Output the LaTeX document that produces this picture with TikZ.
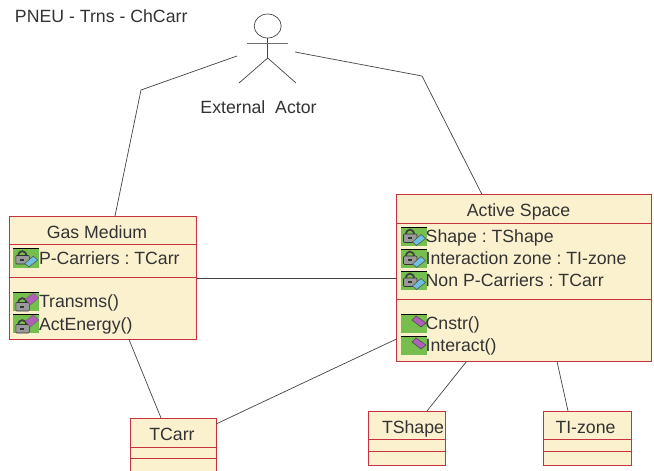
\documentclass[tikz,border=0pt]{standalone}
\usepackage{fontspec}
\usetikzlibrary{shapes.geometric}
\setmainfont{Liberation Sans}
\frenchspacing
\definecolor{boxfill}{HTML}{FBF1CF}
\definecolor{boxline}{HTML}{C8323F}
\definecolor{inkc}{HTML}{333333}
\definecolor{icongreen}{HTML}{76BE4E}
\definecolor{wirec}{HTML}{444444}
\definecolor{lockc}{HTML}{9A9A9A}
\definecolor{bluec}{HTML}{6CC0E0}
\definecolor{purplec}{HTML}{B060B8}
\tikzset{
  x=1pt,y=-1pt,
  classbox/.style={draw=boxline,fill=boxfill,line width=1pt,rectangle,inner sep=0pt,outer sep=0pt,anchor=north west},
  divider/.style={draw=boxline,line width=0.9pt},
  wire/.style={draw=wirec,line width=0.7pt},
  txt/.style={font=\fontsize{17.7}{20}\selectfont,text=inkc,inner sep=0pt,outer sep=0pt},
  classname/.style={txt,anchor=base},
  member/.style={txt,anchor=base west},
  iconbg/.pic={
    \fill[icongreen] (0,0) rectangle (25.5,19);
    \draw[black,line width=0.9pt] (0,0) -- (25.5,0);
  },
  lockg/.pic={
    \draw[black!75,line width=1.8pt] (5,7) .. controls (5,0.5) and (13,0.5) .. (13,7);
    \fill[lockc,draw=black!80,line width=0.6pt,rounded corners=1pt] (2.5,6.5) rectangle (16,15);
    \fill[black!80] (7,9.5) rectangle (11,11.5);
  },
  attricon/.pic={
    \pic at (0,0) {iconbg};
    \pic at (0,0.5) {lockg};
    \fill[bluec,draw=black!70,line width=0.5pt] (11.5,15) -- (20,7.5) -- (24.5,11.5) -- (15.5,18.5) -- cycle;
  },
  lockop/.pic={
    \pic at (0,0) {iconbg};
    \pic at (0,4) {lockg};
    \fill[purplec,draw=black!60,line width=0.4pt] (12,7) -- (20,1) -- (25.5,6) -- (17,13) -- cycle;
  },
  plainop/.pic={
    \pic at (0,0) {iconbg};
    \fill[purplec,draw=black!70,line width=0.6pt] (11,6) -- (15,2) -- (25,9) -- (20,13) -- cycle;
  },
}
\begin{document}
\begin{tikzpicture}
\useasboundingbox (0,0) rectangle (654,471);
\clip (0,0) rectangle (654,471);
\fill[white] (0,0) rectangle (654,471);

\node[txt,anchor=base west] (title) at (15,23) {PNEU - Trns - ChCarr};

% actor
\node[draw=wirec,line width=0.7pt,ellipse,minimum width=27pt,minimum height=24pt,inner sep=0pt,outer sep=0pt] (head) at (267.7,26) {};
\coordinate (hip) at (267.7,58);
\coordinate (armL) at (247,43);
\coordinate (armR) at (288,43);
\coordinate (legL) at (239,83);
\coordinate (legR) at (296,83);
\draw[wire] (head.south) -- (hip);
\draw[draw=black!55,line width=1pt] (armL) -- (armR);
\draw[wire] (legL) -- (hip) -- (legR);
\node[classname] (actorlabel) at (258.5,113) {External\ \ Actor};
\coordinate (actorL) at (237,56);
\coordinate (actorR) at (295,52);

% classes
\node[classbox,minimum width=187pt,minimum height=123.5pt] (gas) at (9.5,216) {};
\node[classbox,minimum width=255pt,minimum height=167pt] (active) at (396.5,194.5) {};
\node[classbox,minimum width=86pt,minimum height=62pt] (tcarr) at (130,418) {};
\node[classbox,minimum width=77pt,minimum height=54pt] (tshape) at (368,411) {};
\node[classbox,minimum width=88pt,minimum height=54pt] (tizone) at (543,411) {};

% dividers
\draw[divider] (gas.west |- 0,244.5) -- (gas.east |- 0,244.5);
\draw[divider] (gas.west |- 0,277) -- (gas.east |- 0,277);
\draw[divider] (active.west |- 0,223) -- (active.east |- 0,223);
\draw[divider] (active.west |- 0,299) -- (active.east |- 0,299);
\draw[divider] (tcarr.west |- 0,447) -- (tcarr.east |- 0,447);
\draw[divider] (tcarr.west |- 0,458) -- (tcarr.east |- 0,458);
\draw[divider] (tshape.west |- 0,439.5) -- (tshape.east |- 0,439.5);
\draw[divider] (tshape.west |- 0,451) -- (tshape.east |- 0,451);
\draw[divider] (tizone.west |- 0,439.5) -- (tizone.east |- 0,439.5);
\draw[divider] (tizone.west |- 0,451) -- (tizone.east |- 0,451);

% names
\node[classname] (gasname) at (97,238) {Gas Medium};
\node[classname] (activename) at (518.5,216) {Active Space};
\node[classname] (tcarrname) at (172,440) {TCarr};
\node[classname] (tshapename) at (413,433) {TShape};
\node[classname] (tizonename) at (585.5,433) {TI-zone};

% members of Gas Medium
\pic at (13.3,248.5) {attricon};
\node[member] (m1) at (39,264) {P-Carriers : TCarr};
\pic at (13.3,292) {lockop};
\node[member] (m2) at (39,307) {Transms()};
\pic at (13.3,314) {lockop};
\node[member] (m3) at (39,330) {ActEnergy()};

% members of Active Space
\pic at (401,227) {attricon};
\node[member] (a1) at (425.7,242) {Shape : TShape};
\pic at (401,249) {attricon};
\node[member] (a2) at (425.7,264) {Interaction zone : TI-zone};
\pic at (401,271) {attricon};
\node[member] (a3) at (425.7,286) {Non P-Carriers : TCarr};
\pic at (401,314) {plainop};
\node[member] (a4) at (425.7,329) {Cnstr()};
\pic at (401,336) {plainop};
\node[member] (a5) at (425.7,351) {Interact()};

% connectors
\coordinate (bendL) at (141,90);
\coordinate (bendR) at (422,76);
\draw[wire] (actorL) -- (bendL) -- ([xshift=105.5pt]gas.north west);
\draw[wire] (actorR) -- (bendR) -- ([xshift=85.5pt]active.north west);
\draw[wire] ([yshift=-62pt]gas.north east) -- ([yshift=-83.5pt]active.north west);
\draw[wire] ([xshift=119.5pt]gas.south west) -- ([xshift=31pt]tcarr.north west);
\draw[wire] ([yshift=-144.5pt]active.north west) -- ([yshift=-6pt]tcarr.north east);
\draw[wire] ([xshift=70pt]active.south west) -- ([xshift=59pt]tshape.north west);
\draw[wire] ([xshift=160.5pt]active.south west) -- ([xshift=25pt]tizone.north west);
\end{tikzpicture}
\end{document}
